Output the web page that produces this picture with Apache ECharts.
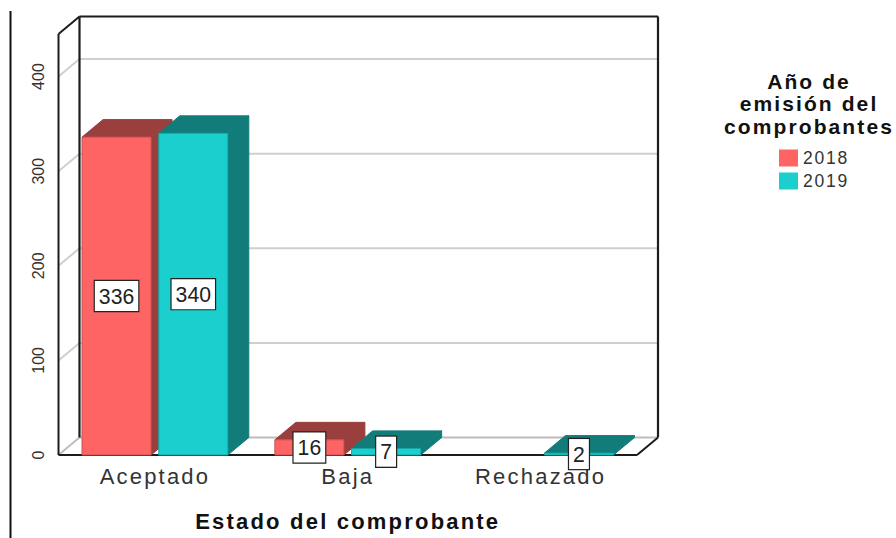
<!DOCTYPE html>
<html>
<head>
<meta charset="utf-8">
<style>
html,body{margin:0;padding:0;background:#fff}
#chart{width:896px;height:538px}
#chart text{letter-spacing:.1em}
#chart text[style*="16px"],#chart text[style*="21.2px"]{letter-spacing:0}
</style>
<script src="https://cdn.jsdelivr.net/npm/echarts@6/dist/echarts.min.js"></script>
</head>
<body>
<div id="chart"></div>
<script>
const categories = ['Aceptado', 'Baja', 'Rechazado'];
const values2018 = [336, 16, null];
const values2019 = [340, 7, 2];
const gridTicks = [100, 200, 300, 400];
const axisMax = 445;
const xTitle = 'Estado del comprobante';
const legendTitle = 'Año de\nemisión del\ncomprobantes';

const DX = 21, DY = -17.5;
const FONT = '"Liberation Sans", Arial, sans-serif';

function poly(points, fill, stroke, z2) {
  return {type: 'polygon', z2: z2 || 0, shape: {points},
    style: {fill, stroke: stroke || fill, lineWidth: 1}};
}
function line(a, b, stroke, w) {
  return {type: 'line', shape: {x1: a[0], y1: a[1], x2: b[0], y2: b[1]},
    style: {stroke, lineWidth: w, fill: null}};
}
function renderWalls(params, api) {
  const lt = api.coord([0, axisMax]);
  const lb = api.coord([0, 0]);
  const band = api.size([1, 0])[0];
  const L = lb[0] - band / 2, R = L + band * categories.length;
  const T = lt[1], B = lb[1];
  const kids = [];
  const GRAY = '#cfcfcf', BLK = '#1c1c1c';
  gridTicks.forEach(v => {
    const y = api.coord([0, v])[1];
    kids.push(line([L, y], [L + DX, y + DY], GRAY, 2));
    kids.push(line([L + DX, y + DY], [R + DX, y + DY], GRAY, 2));
  });
  kids.push(line([L, B], [L + DX, B + DY], '#bdbdbd', 2));
  kids.push(line([L + DX, B + DY], [R + DX, B + DY], '#bdbdbd', 2));
  kids.push(line([L, T], [L, B], BLK, 2));
  kids.push(line([L, T], [L + DX, T + DY], BLK, 2));
  kids.push(line([L + DX, T + DY], [R + DX, T + DY], BLK, 2));
  kids.push(line([L + DX, T + DY], [L + DX, B + DY], BLK, 2.2));
  kids.push(line([R + DX, T + DY], [R + DX, B + DY], BLK, 2.2));
  kids.push(line([L, B], [R, B], BLK, 2));
  kids.push(line([R, B], [R + DX, B + DY], BLK, 2));
  return {type: 'group', children: kids};
}
function barRenderer(side, front, dark, edge) {
  return function (params, api) {
    const v = api.value(1);
    if (v === null || isNaN(v)) return null;
    const base = api.coord([api.value(0), 0]);
    const top = api.coord([api.value(0), v]);
    const band = api.size([1, 0])[0];
    const w = band * 0.358, gap = band * 0.02;
    const x0 = side < 0 ? base[0] - gap - w : base[0] + gap;
    const x1 = x0 + w, yB = base[1], yT = top[1];
    const kids = [
      poly([[x1, yB], [x1 + DX, yB + DY], [x1 + DX, yT + DY], [x1, yT]], dark, dark),
      poly([[x0, yT], [x0 + DX, yT + DY], [x1 + DX, yT + DY], [x1, yT]], dark, dark),
      poly([[x0, yB], [x1, yB], [x1, yT], [x0, yT]], front, edge),
      {type: 'text', z2: 50,
        x: (x0 + x1) / 2, y: (yB + yT) / 2,
        style: {text: String(v), font: '21.2px ' + FONT, fill: '#222',
          align: 'center', verticalAlign: 'middle',
          backgroundColor: '#fff', borderColor: '#222', borderWidth: 1.2,
          padding: [4, 4, 4, 4], lineHeight: 22}}
    ];
    return {type: 'group', children: kids};
  };
}

const chart = echarts.init(document.getElementById('chart'), null, {renderer: 'svg'});
chart.setOption({
  animation: false,
  backgroundColor: '#fff',
  title: {
    text: legendTitle, left: 804, top: 65, textAlign: 'center',
    textStyle: {fontFamily: FONT, fontSize: 21, fontWeight: 'bold', color: '#111', lineHeight: 22.5}
  },
  legend: {
    left: 779, top: 149, padding: 0, orient: 'vertical', itemWidth: 19, itemHeight: 17, itemGap: 5,
    data: [{name: '2018', icon: 'rect'}, {name: '2019', icon: 'rect'}],
    textStyle: {fontFamily: FONT, fontSize: 17.5, color: '#333', padding: [2, 0, 0, 0]},
    selectedMode: false
  },
  grid: {left: 58.5, right: 259, top: 34, bottom: 83},
  xAxis: {
    type: 'category', data: categories,
    axisLine: {show: false}, axisTick: {show: false}, splitLine: {show: false},
    axisLabel: {fontFamily: FONT, fontSize: 22, color: '#333', margin: 10},
    name: xTitle, nameLocation: 'middle', nameGap: 55,
    nameTextStyle: {fontFamily: FONT, fontSize: 22, fontWeight: 'bold', color: '#111'}
  },
  yAxis: {
    type: 'value', min: 0, max: axisMax, interval: 100,
    axisLine: {show: false}, axisTick: {show: false}, splitLine: {show: false},
    axisLabel: {fontFamily: FONT, fontSize: 16, color: '#333', rotate: 90, margin: 12, showMaxLabel: false}
  },
  graphic: [{
    type: 'line', shape: {x1: 10.5, y1: 11, x2: 10.5, y2: 538},
    style: {stroke: '#111', lineWidth: 2}, silent: true
  }],
  series: [
    {type: 'custom', name: 'walls', silent: true, renderItem: renderWalls, data: [[0, 0]],
      encode: {x: 0, y: 1}, z: 1, legendHoverLink: false},
    {type: 'custom', name: '2018', renderItem: barRenderer(-1, '#FF6464', '#9A3E3E', '#C95050'),
      data: values2018.map((v, i) => [i, v]), encode: {x: 0, y: 1}, z: 2,
      itemStyle: {color: '#FF6464'}},
    {type: 'custom', name: '2019', renderItem: barRenderer(1, '#1BCFCF', '#127C7A', '#17A5A4'),
      data: values2019.map((v, i) => [i, v]), encode: {x: 0, y: 1}, z: 3,
      itemStyle: {color: '#1BCFCF'}}
  ]
});
</script>
</body>
</html>
